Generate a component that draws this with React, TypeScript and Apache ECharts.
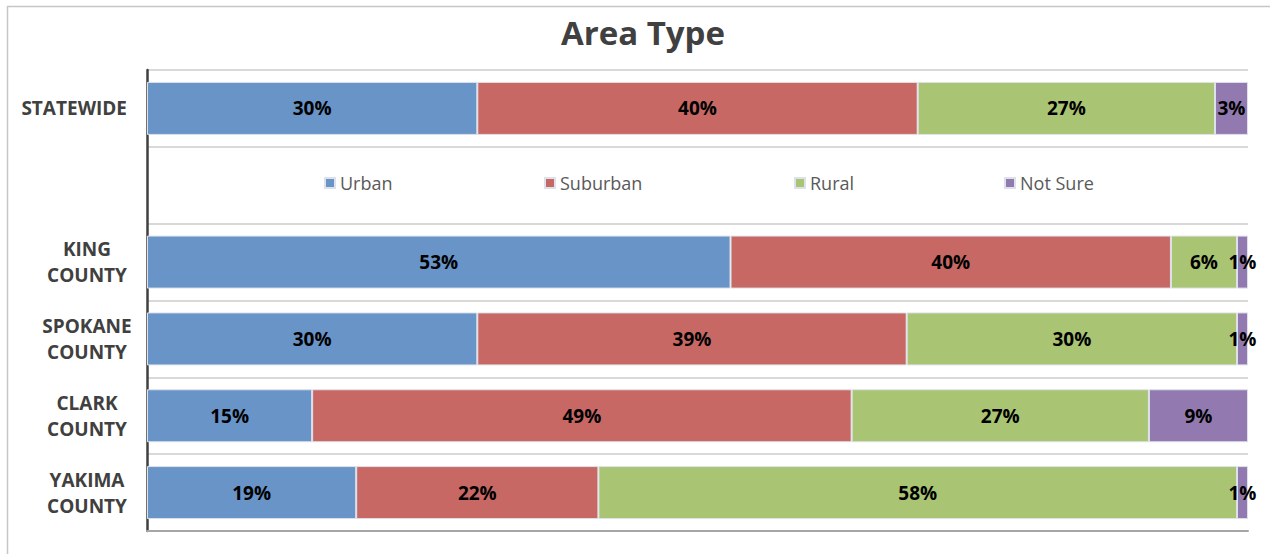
import React, { useEffect, useRef } from "react";
import * as echarts from "echarts";

const categories = ["STATEWIDE", "", "KING\nCOUNTY", "SPOKANE\nCOUNTY", "CLARK\nCOUNTY", "YAKIMA\nCOUNTY"];
const seriesNames = ["Urban", "Suburban", "Rural", "Not Sure"];
const urban = [30, null, 53, 30, 15, 19];
const suburban = [40, null, 40, 39, 49, 22];
const rural = [27, null, 6, 30, 27, 58];
const notSure = [3, null, 1, 1, 9, 1];
const colors = ["#6894C8", "#C86865", "#A9C472", "#927AB0"];
const legendLeft = [319, 539, 789, 999];

const FONT = "'Open Sans', Lato, sans-serif";

export default function App() {
  const ref = useRef<HTMLDivElement>(null);
  useEffect(() => {
    if (!ref.current) return;
    const chart = echarts.init(ref.current, null, { renderer: "svg" });
    const values = [urban, suburban, rural, notSure];
    const series = seriesNames.map((name, i) => ({
      name,
      type: "bar",
      stack: "total",
      barWidth: 53,
      data: values[i],
      itemStyle: { color: colors[i], borderColor: "#dde2ea", borderWidth: 1 },
      label: {
        show: true,
        position: "inside",
        formatter: (p: any) => (p.value == null ? "" : `${p.value}%`),
        color: "#000",
        fontFamily: FONT,
        fontWeight: "bold",
        fontSize: 19,
      },
    }));
    chart.setOption({
      animation: false,
      backgroundColor: "#fff",
      title: {
        text: "Area Type",
        left: 638,
        textAlign: "center",
        top: 11,
        textStyle: { fontFamily: FONT, fontWeight: "bold", fontSize: 33, color: "#404040" },
      },
      legend: seriesNames.map((n, i) => ({
        data: [n],
        left: legendLeft[i],
        top: 169,
        icon: "rect",
        itemWidth: 10,
        itemHeight: 10,
        itemGap: 6,
        selectedMode: false,
        textStyle: { fontFamily: FONT, fontSize: 18, color: "#595959" },
      })),
      grid: { left: 147, right: 22, top: 70, bottom: 23 },
      xAxis: {
        type: "value",
        min: 0,
        max: 100,
        axisLine: { show: true, lineStyle: { color: "#a6a6a6", width: 2 } },
        axisLabel: { show: false },
        axisTick: { show: false },
        splitLine: { show: false },
      },
      yAxis: {
        type: "category",
        inverse: true,
        data: categories,
        axisLine: { show: true, lineStyle: { color: "#404040", width: 2.5 } },
        axisTick: { show: false },
        splitLine: { show: true, lineStyle: { color: "#d9d9d9", width: 2 } },
        axisLabel: {
          margin: 20,
          align: "right",
          formatter: (v: string) =>
            v.includes("\n")
              ? v.split("\n").map((l) => `{c|${l}}`).join("\n")
              : `{s|${v}}`,
          rich: {
            c: { width: 80, align: "center", fontFamily: FONT, fontWeight: "bold", fontSize: 19, color: "#404040", lineHeight: 26 },
            s: { fontFamily: FONT, fontWeight: "bold", fontSize: 19, color: "#404040" },
          },
        },
      },
      graphic: [
        { type: "line", shape: { x1: 7, y1: 6.5, x2: 1270, y2: 6.5 }, style: { stroke: "#c6c6c6", lineWidth: 1.5 } },
        { type: "line", shape: { x1: 7.5, y1: 6, x2: 7.5, y2: 554 }, style: { stroke: "#c6c6c6", lineWidth: 1.5 } },
      ],
      series,
    });
    return () => chart.dispose();
  }, []);
  return <div ref={ref} style={{ position: "absolute", left: 0, top: 0, width: 1270, height: 554 }} />;
}
